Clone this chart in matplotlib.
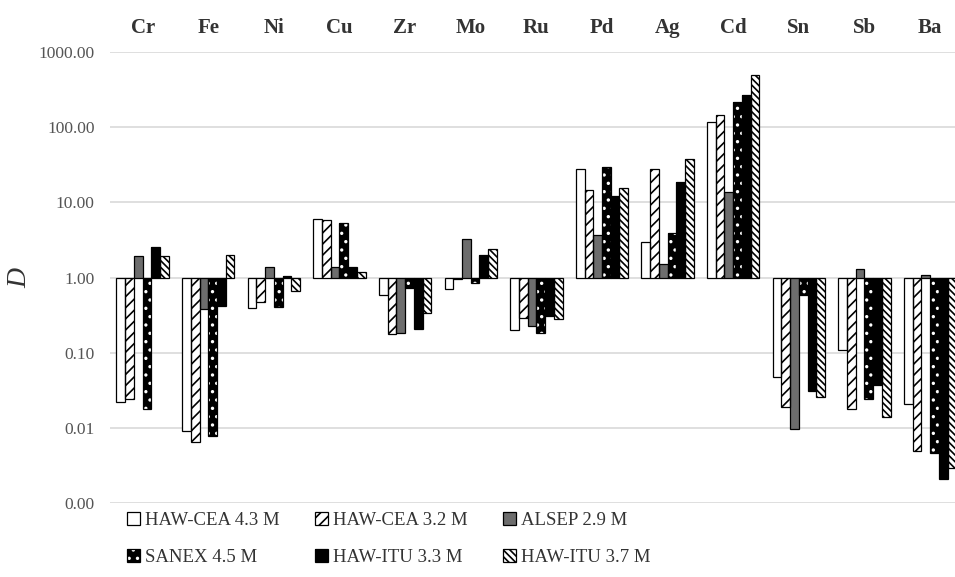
import matplotlib.pyplot as plt
import numpy as np
from matplotlib.patches import Patch

plt.rcParams['font.family'] = ['Liberation Serif', 'DejaVu Serif']
plt.rcParams['hatch.linewidth'] = 1.2

elements = ['Cr', 'Fe', 'Ni', 'Cu', 'Zr', 'Mo', 'Ru', 'Pd', 'Ag', 'Cd', 'Sn', 'Sb', 'Ba']
series = ['HAW-CEA 4.3 M', 'HAW-CEA 3.2 M', 'ALSEP 2.9 M',
          'SANEX 4.5 M', 'HAW-ITU 3.3 M', 'HAW-ITU 3.7 M']

# distribution ratios D
hawcea43 = [0.022, 0.0091, 0.39, 6.0, 0.58, 0.71, 0.20, 27.9, 2.98, 118, 0.048, 0.11, 0.021]
hawcea32 = [0.024, 0.0066, 0.47, 5.8, 0.178, 0.97, 0.29, 14.5, 27.9, 147, 0.019, 0.018, 0.0049]
alsep29 = [1.92, 0.38, 1.37, 1.37, 0.184, 3.27, 0.23, 3.73, 1.53, 13.8, 0.0098, 1.30, 1.08]
sanex45 = [0.0176, 0.0079, 0.41, 5.3, 0.73, 0.85, 0.184, 29.3, 3.93, 219, 0.58, 0.0246, 0.0046]
hawitu33 = [2.53, 0.42, 1.06, 1.37, 0.21, 2.02, 0.31, 12.05, 18.7, 271, 0.031, 0.037, 0.0021]
hawitu37 = [1.96, 2.02, 0.66, 1.19, 0.34, 2.43, 0.28, 15.6, 37.9, 486, 0.026, 0.0139, 0.0029]

data = [hawcea43, hawcea32, alsep29, sanex45, hawitu33, hawitu37]
# (face, hatch colour, hatch) per series
styles = [('white', 'black', None),
          ('white', 'black', '///'),
          ('#6d6d6d', 'black', None),
          ('black', 'white', '..'),
          ('black', 'black', None),
          ('white', 'black', '\\\\\\\\\\')]

fig = plt.figure(figsize=(9.55, 5.77), dpi=100)
ax = fig.add_axes([0.115, 0.128, 0.885, 0.782])
ax.set_yscale('log')

x = np.arange(len(elements))
w = 0.133
for i, vals in enumerate(data):
    vals = np.array(vals)
    xs = x + (i - 2.5) * w
    face, hcol, hatch = styles[i]
    ax.bar(xs, vals - 1, bottom=1, width=w, color=face, edgecolor=hcol,
           linewidth=0, hatch=hatch, zorder=3)
    ax.bar(xs, vals - 1, bottom=1, width=w, fill=False, edgecolor='black',
           linewidth=0.9, zorder=4)

ax.set_ylim(0.001, 1000)
ax.set_xlim(-0.5, 12.38)
yt = [0.001, 0.01, 0.1, 1, 10, 100, 1000]
ax.set_yticks(yt)
ax.set_yticklabels([f'{v:.2f}' for v in yt])
ax.minorticks_off()
ax.tick_params(axis='y', length=0, labelsize=12.5, labelcolor='#555555', pad=11)
ax.grid(axis='y', color='#d9d9d9', linewidth=1.2, zorder=0)

ax.xaxis.tick_top()
ax.set_xticks(x)
ax.set_xticklabels(elements, fontsize=15, fontweight='bold', color='#333333')
ax.tick_params(axis='x', length=0, pad=10)

for s in ax.spines.values():
    s.set_visible(False)

fig.text(0.021, 0.518, 'D', rotation=90, fontsize=20, fontstyle='italic',
         color='#333333', ha='center', va='center')

handles = []
for face, hcol, hatch in styles:
    handles.append((Patch(facecolor=face, edgecolor=hcol, hatch=hatch, linewidth=0),
                    Patch(fill=False, edgecolor='black', linewidth=0.9)))
order = [0, 3, 1, 4, 2, 5]
fig.legend([handles[k] for k in order], [series[k] for k in order],
           loc='upper left', bbox_to_anchor=(0.133, 0.113), ncol=3,
           frameon=False, fontsize=13.5, handlelength=0.7, handleheight=0.7,
           handletextpad=0.25, columnspacing=1.9, labelspacing=1.05,
           borderpad=0, borderaxespad=0, labelcolor='#333333')

fig.savefig('out.png', dpi=100)
